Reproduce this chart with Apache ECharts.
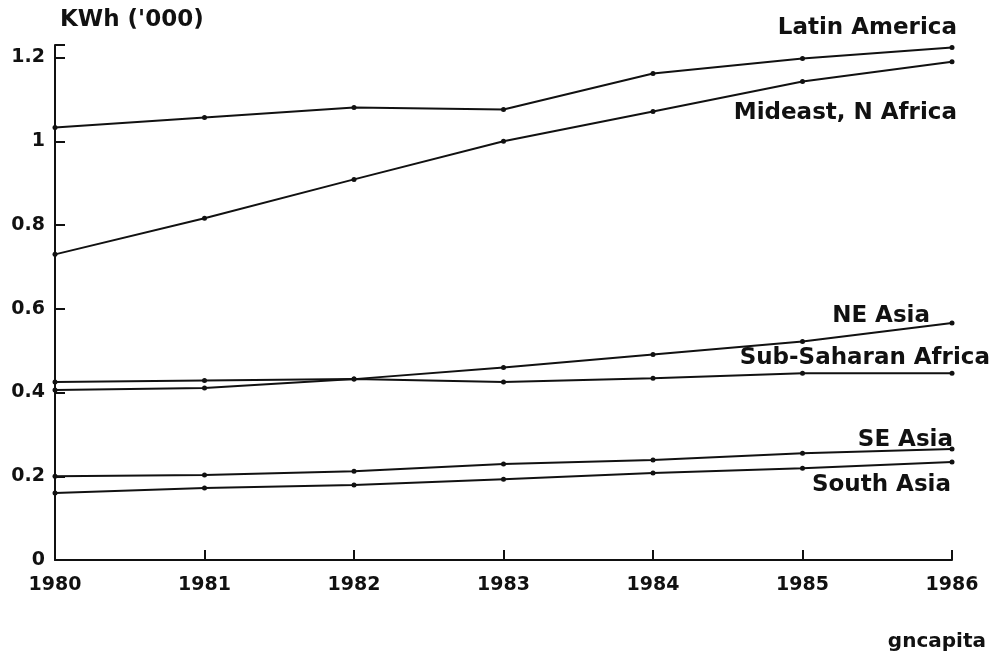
<!DOCTYPE html>
<html>
<head>
<meta charset="utf-8">
<script src="https://cdn.jsdelivr.net/npm/echarts@6/dist/echarts.min.js"></script>
<style>
html,body{margin:0;padding:0;background:#fff;}
#main{width:1001px;height:653px;}
</style>
</head>
<body>
<div id="main"></div>
<script>
var years = ['1980','1981','1982','1983','1984','1985','1986'];
var yTicks = [0, 0.2, 0.4, 0.6, 0.8, 1, 1.2];

var latinAmerica = [1.033, 1.057, 1.081, 1.076, 1.162, 1.198, 1.224];
var mideastNAfrica = [0.730, 0.816, 0.909, 1.000, 1.071, 1.143, 1.190];
var neAsia = [0.406, 0.411, 0.432, 0.460, 0.491, 0.522, 0.566];
var subSaharan = [0.425, 0.429, 0.432, 0.425, 0.434, 0.446, 0.446];
var seAsia = [0.200, 0.203, 0.212, 0.229, 0.239, 0.255, 0.265];
var southAsia = [0.160, 0.172, 0.179, 0.193, 0.208, 0.219, 0.234];

var fontName = 'DejaVu Sans';
var ink = '#111';

// label goes on the last point, offset from it
function makeSeries(name, values, dx, dy){
	var data = [];
	for(var i=0;i<values.length;i++){
		if(i==values.length-1){
			data.push({
				value: values[i],
				label: {
					show: true,
					position: 'inside',
					align: 'right',
					verticalAlign: 'middle',
					offset: [dx, dy],
					formatter: name,
					color: ink,
					fontFamily: fontName,
					fontWeight: 'bold',
					fontSize: 23
				}
			});
		}else{
			data.push(values[i]);
		}
	}
	return {
		name: name,
		type: 'line',
		data: data,
		symbol: 'circle',
		symbolSize: 5,
		itemStyle: {color: ink},
		lineStyle: {color: ink, width: 2},
		clip: false,
		animation: false,
		z: 3
	};
}

var chart = echarts.init(document.getElementById('main'));
var option = {
	backgroundColor: '#fff',
	title: [{
		text: "KWh ('000)",
		left: 55,
		top: 4,
		textStyle: {fontFamily: fontName, fontWeight: 'bold', fontSize: 23, color: ink}
	},{
		text: 'gncapita',
		right: 10,
		top: 627,
		textStyle: {fontFamily: fontName, fontWeight: 'bold', fontSize: 20, color: ink}
	}],
	grid: {left: 55, right: 49, top: 45, bottom: 93},
	xAxis: {
		type: 'category',
		data: years,
		boundaryGap: false,
		axisLine: {lineStyle: {color: ink, width: 2}},
		axisTick: {inside: true, length: 10, alignWithLabel: true, lineStyle: {color: ink, width: 2}},
		axisLabel: {margin: 16, color: ink, fontFamily: fontName, fontWeight: 'bold', fontSize: 19}
	},
	yAxis: {
		type: 'value',
		min: 0,
		max: 1.23,
		interval: 0.2,
		splitLine: {show: false},
		axisLine: {show: true, lineStyle: {color: ink, width: 2}},
		axisTick: {show: true, inside: true, length: 10, lineStyle: {color: ink, width: 2}},
		axisLabel: {
			margin: 10, color: ink, fontFamily: fontName, fontWeight: 'bold', fontSize: 19,
			formatter: function(v){
				for(var i=0;i<yTicks.length;i++){
					if(Math.abs(yTicks[i]-v)<1e-6) return String(yTicks[i]);
				}
				return '';
			}
		}
	},
	series: [
		makeSeries('Latin America', latinAmerica, 5, -19),
		makeSeries('Mideast, N Africa', mideastNAfrica, 5, 51),
		makeSeries('NE Asia', neAsia, -22, -7),
		makeSeries('Sub-Saharan Africa', subSaharan, 38, -15),
		makeSeries('SE Asia', seAsia, 1, -9),
		makeSeries('South Asia', southAsia, -1, 23)
	]
};
chart.setOption(option);
</script>
</body>
</html>
